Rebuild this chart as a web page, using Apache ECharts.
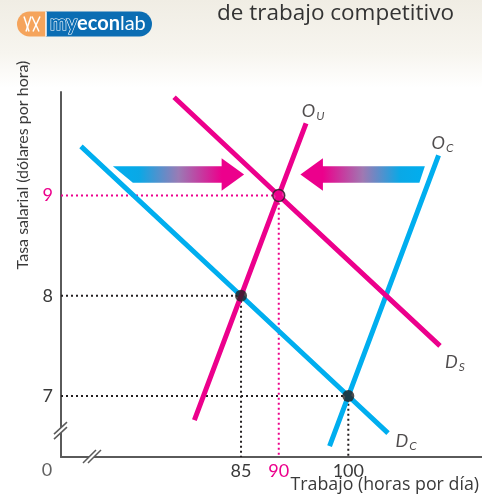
<!DOCTYPE html>
<html><head><meta charset="utf-8">
<script src="https://cdn.jsdelivr.net/npm/echarts@6/dist/echarts.min.js"></script>
<style>html,body{margin:0;padding:0;background:#fff}#c{width:482px;height:498px}</style>
</head><body><div id="c"></div>
<script>
// ---- data ----
const xTicks = [85, 90, 100];
const yTicks = [7, 8, 9];
const originTick = ['0'];
const xRange = [64.71, 122.45];
const yRange = [6.392, 10.032];
const demandCompetitive = [[66.7, 9.49], [85, 8], [100, 7], [106.2, 6.63]];
const supplyCompetitive = [[97.2, 6.5], [100, 7], [114.65, 9.4]];
const demandUnion = [[76.8, 9.98], [90, 9], [114.9, 7.5]];
const supplyUnion = [[79.2, 6.76], [85, 8], [90, 9], [93.8, 9.72]];
const competitiveEquilibria = [[85, 8], [100, 7]];
const unionEquilibrium = [[90, 9]];
const arrowTail = [70.0, 112.3];
const arrowTip = [85.4, 93.0];
const arrowWage = [9.21, 9.21];
const breakMarks = [[64.71, 6.66, 0], [67.82, 6.392, 1]];

// ---- styles ----
const PINK = '#ec008c', BLUE = '#00aeef', INK = '#231f20', TXT = '#3a3a3a', AXIS = '#5a5a5a';
const FONT = 'Lato, "Open Sans", sans-serif';
const WIDE = '"Open Sans", Lato, sans-serif';

const chart = echarts.init(document.getElementById('c'), null, {renderer: 'canvas'});

function guide(p) { return [[xRange[0], p[1]], p, [p[0], yRange[0]]]; }
function curve(data, color) {
  return {type: 'line', data: data, showSymbol: false, silent: true, z: 3,
    lineStyle: {color: color, width: 5, cap: 'butt', join: 'round'}};
}
function dotted(data, color) {
  return {type: 'line', data: data, showSymbol: false, silent: true, z: 1,
    lineStyle: {color: color, width: 2, type: [2, 3]}};
}
const richLbl = {
  o: {fontSize: 18, fontStyle: 'italic', fontFamily: FONT, color: INK, lineHeight: 20},
  s: {fontSize: 12, fontStyle: 'italic', fontFamily: FONT, color: INK, lineHeight: 20, padding: [10, 0, 0, 1]}
};
function tag(point, main, sub, offset) {
  return {value: point, label: {show: true, position: 'inside', offset: offset,
    formatter: '{o|' + main + '}{s|' + sub + '}', rich: richLbl}};
}

const arrowData = arrowTail.map((t, i) => [t, arrowTip[i], arrowWage[i]]);

const option = {
  backgroundColor: '#ffffff',
  animation: false,
  grid: {left: 61, top: 92, right: 0, bottom: 41, outerBoundsMode: 'none'},
  xAxis: {type: 'log', min: xRange[0], max: xRange[1],
    axisLine: {lineStyle: {color: AXIS, width: 2}},
    axisTick: {show: false}, splitLine: {show: false}, minorTick: {show: false},
    axisLabel: {customValues: xTicks, margin: 5,
      formatter: v => (Math.round(v) === 90 ? '{p|' : '{d|') + Math.round(v) + '}',
      rich: {p: {color: PINK, fontSize: 18, fontFamily: FONT}, d: {color: TXT, fontSize: 18, fontFamily: FONT}}}},
  yAxis: {type: 'value', min: yRange[0], max: yRange[1],
    axisLine: {show: true, lineStyle: {color: AXIS, width: 2}},
    axisTick: {show: false}, splitLine: {show: false},
    axisLabel: {customValues: yTicks, margin: 8,
      formatter: v => (Math.round(v) === 9 ? '{p|' : '{d|') + Math.round(v) + '}',
      rich: {p: {color: PINK, fontSize: 18, fontFamily: FONT}, d: {color: TXT, fontSize: 18, fontFamily: FONT}}}},
  graphic: [
    {type: 'rect', left: 0, top: 0, z: -1, shape: {width: 482, height: 88},
      style: {fill: {type: 'linear', x: 0, y: 0, x2: 0, y2: 1,
        colorStops: [{offset: 0, color: '#f0ede4'}, {offset: 0.6, color: '#f7f5ef'}, {offset: 1, color: '#ffffff'}]}}},
    {type: 'group', left: 17, top: 9, children: [
      {type: 'rect', shape: {x: 0, y: 0, width: 30, height: 25, r: [12.5, 0, 0, 12.5]}, style: {fill: '#f5a45c'}},
      {type: 'rect', shape: {x: 29, y: 0, width: 106, height: 25, r: [0, 12.5, 12.5, 0]}, style: {fill: '#0b6db3'}},
      {type: 'line', shape: {x1: 29, y1: 0, x2: 29, y2: 25}, style: {stroke: '#fff', lineWidth: 1.5}},
      {type: 'polyline', shape: {points: [[7, 5], [12, 20]]}, style: {stroke: '#fff', lineWidth: 1.5, fill: null}},
      {type: 'polyline', shape: {points: [[14, 5], [9, 20]]}, style: {stroke: '#fff', lineWidth: 1.5, fill: null}},
      {type: 'polyline', shape: {points: [[15, 5], [22, 20]]}, style: {stroke: '#fff', lineWidth: 1.5, fill: null}},
      {type: 'polyline', shape: {points: [[23, 5], [16, 20]]}, style: {stroke: '#fff', lineWidth: 1.5, fill: null}},
      {type: 'text', x: 33, y: 12.5, style: {text: '{a|my}{b|econ}{c|lab}', verticalAlign: 'middle',
        rich: {a: {fontSize: 20, fontWeight: 'bold', fontFamily: FONT, fill: '#0b6db3', stroke: '#ffffff', lineWidth: 1.2},
               b: {fontSize: 20, fontWeight: 'bold', fontFamily: FONT, fill: '#ffffff'},
               c: {fontSize: 20, fontWeight: 'normal', fontFamily: FONT, fill: '#ffffff'}}}}
    ]},
    {type: 'text', left: 217, top: 2, style: {text: 'de trabajo competitivo', fontSize: 22.5, fontFamily: WIDE, fill: '#333333'}},
    {type: 'text', x: 23, y: 165, rotation: Math.PI / 2,
      style: {text: 'Tasa salarial (dólares por hora)', fontSize: 16, fontFamily: FONT, fill: TXT, align: 'center', verticalAlign: 'middle'}},
    {type: 'text', right: 3, top: 476,
      style: {text: 'Trabajo (horas por día)', fontSize: 17.8, fontFamily: WIDE, fill: TXT}}
  ],
  series: [
    dotted(guide(competitiveEquilibria[0]), INK),
    dotted(guide(competitiveEquilibria[1]), INK),
    dotted(guide(unionEquilibrium[0]), PINK),
    curve(demandCompetitive, BLUE),
    curve(supplyCompetitive, BLUE),
    curve(demandUnion, PINK),
    curve(supplyUnion, PINK),
    {type: 'custom', z: 4, silent: true, data: arrowData,
      renderItem: function (params, api) {
        const a = api.coord([api.value(0), api.value(2)]);
        const b = api.coord([api.value(1), api.value(2)]);
        const dir = b[0] > a[0] ? 1 : -1;
        const y = a[1], bh = 8.2, hh = 16.2, hl = 22.5;
        const slant = dir > 0 ? 20 : 5.5;
        const hb = b[0] - hl * dir;
        const pts = [[a[0], y - bh], [hb, y - bh], [hb, y - hh], [b[0], y], [hb, y + hh], [hb, y + bh], [a[0] + slant * dir, y + bh]];
        const stops = dir > 0
          ? [{offset: 0, color: BLUE}, {offset: 0.2, color: '#0aa8e6'}, {offset: 0.5, color: '#9a7bb5'}, {offset: 0.83, color: PINK}, {offset: 1, color: PINK}]
          : [{offset: 0, color: PINK}, {offset: 0.18, color: PINK}, {offset: 0.5, color: '#a078b2'}, {offset: 0.8, color: '#0aa8e6'}, {offset: 1, color: BLUE}];
        return {type: 'polygon', shape: {points: pts},
          style: {fill: {type: 'linear', x: 0, y: 0, x2: 1, y2: 0, colorStops: stops}}};
      }},
    {type: 'scatter', z: 5, silent: true, data: competitiveEquilibria, symbolSize: 12,
      itemStyle: {color: INK}},
    {type: 'scatter', z: 5, silent: true, data: unionEquilibrium, symbolSize: 12,
      itemStyle: {color: PINK, borderColor: INK, borderWidth: 1.5}},
    {type: 'scatter', z: 6, silent: true, symbolSize: 1, itemStyle: {color: 'rgba(0,0,0,0)'},
      data: [
        tag(supplyUnion[supplyUnion.length - 1], 'O', 'U', [7, -12]),
        tag(supplyCompetitive[supplyCompetitive.length - 1], 'O', 'C', [4, -12]),
        tag(demandUnion[demandUnion.length - 1], 'D', 'S', [15, 16]),
        tag(demandCompetitive[demandCompetitive.length - 1], 'D', 'C', [18, 8])
      ]},
    {type: 'scatter', z: 6, silent: true, symbolSize: 1, itemStyle: {color: 'rgba(0,0,0,0)'},
      data: [{value: [xRange[0], yRange[0]], label: {show: true, position: 'inside', offset: [-14, 13],
        formatter: originTick[0], fontSize: 18, fontFamily: FONT, color: TXT}}]},
    {type: 'custom', z: 7, silent: true, data: breakMarks,
      renderItem: function (params, api) {
        const p = api.coord([api.value(0), api.value(1)]);
        const st = {stroke: AXIS, lineWidth: 1.5};
        let l1, l2;
        if (api.value(2) === 0) {
          l1 = [[p[0] - 7, p[1] + 9], [p[0] + 6, p[1] - 3]];
          l2 = [[p[0] - 7, p[1] + 4], [p[0] + 6, p[1] - 8]];
        } else {
          l1 = [[p[0] - 9, p[1] + 6], [p[0] + 4, p[1] - 7]];
          l2 = [[p[0] - 4, p[1] + 6], [p[0] + 9, p[1] - 7]];
        }
        return {type: 'group', children: [
          {type: 'polygon', shape: {points: [l1[0], l1[1], l2[1], l2[0]]}, style: {fill: '#ffffff'}},
          {type: 'line', shape: {x1: l1[0][0], y1: l1[0][1], x2: l1[1][0], y2: l1[1][1]}, style: st},
          {type: 'line', shape: {x1: l2[0][0], y1: l2[0][1], x2: l2[1][0], y2: l2[1][1]}, style: st}
        ]};
      }}
  ]
};
chart.setOption(option);
</script>
</body></html>
